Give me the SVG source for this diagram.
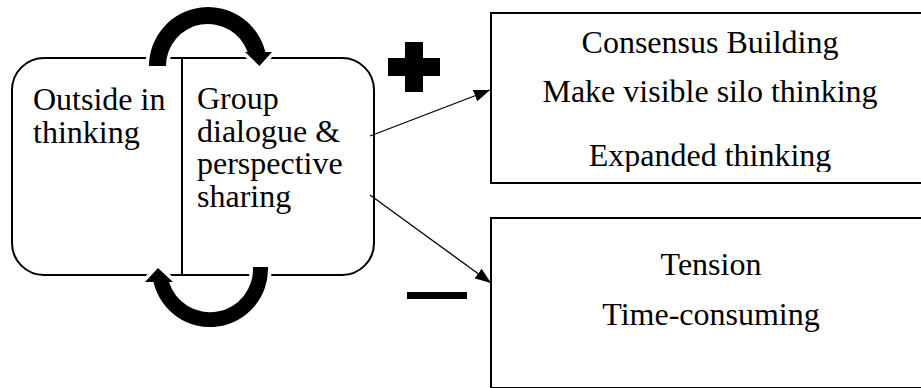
<svg xmlns="http://www.w3.org/2000/svg" width="921" height="388" viewBox="0 0 921 388">
<style>
  .t { font-family: "Times New Roman", "Liberation Serif", Tinos, "DejaVu Serif", serif; font-size: 32px; fill: #000; }
  .c { text-anchor: middle; }
  .box { fill: #fff; stroke: #000; stroke-width: 2; }
  .conn { stroke: #000; stroke-width: 1.3; fill: none; marker-end: url(#ah); }
  .cyc { fill: #000; stroke: #fff; stroke-width: 7; paint-order: stroke; stroke-linejoin: miter; }
  .sign { fill: #000; }
</style>
<defs>
  <marker id="ah" markerUnits="userSpaceOnUse" markerWidth="16" markerHeight="12" refX="16" refY="6" orient="auto">
    <path d="M0,0 L16,6 L0,12 Z" fill="#000"/>
  </marker>
  <clipPath id="clipTop">
    <rect x="491" y="13" width="430" height="159"/>
  </clipPath>
</defs>

<g id="loop-box">
  <rect class="box" x="12" y="58" width="362" height="217" rx="32" ry="32"/>
  <line x1="182" y1="58" x2="182" y2="275" stroke="#000" stroke-width="2"/>
</g>

<g id="outside-in">
  <text class="t" x="33" y="110">Outside in</text>
  <text class="t" x="33" y="142.5">thinking</text>
</g>

<g id="group-dialogue">
  <text class="t" x="197" y="109">Group</text>
  <text class="t" x="197" y="141.5">dialogue &amp;</text>
  <text class="t" x="197" y="174">perspective</text>
  <text class="t" x="197" y="206.5">sharing</text>
</g>

<g id="cycle-arrows">
  <path class="cyc" d="M149,66 A59,59 0 0 1 265.3,52 L272,52 L259.5,66 L245,52 L247.6,52 A42,42 0 0 0 166,66 Z"/>
  <path class="cyc" d="M268,267 A58,58 0 0 1 153.5,282 L145,282 L158,268 L173,282 L169,282 A43,43 0 0 0 253,267 Z"/>
</g>

<g id="plus">
  <rect class="sign" x="405" y="42" width="18" height="50"/>
  <rect class="sign" x="388" y="58" width="52" height="18"/>
</g>

<g id="minus">
  <rect class="sign" x="407" y="292" width="60" height="7"/>
</g>

<g id="positives">
  <rect class="box" x="491" y="13" width="440" height="170"/>
  <text class="t c" x="710" y="53">Consensus Building</text>
  <text class="t c" x="710" y="102">Make visible silo thinking</text>
  <text class="t c" x="710" y="166" clip-path="url(#clipTop)">Expanded thinking</text>
</g>

<g id="negatives">
  <rect class="box" x="491" y="218" width="440" height="170"/>
  <text class="t c" x="711" y="275">Tension</text>
  <text class="t c" x="711" y="325">Time-consuming</text>
</g>

<g id="connectors">
  <line class="conn" x1="370" y1="136" x2="490" y2="90"/>
  <line class="conn" x1="370" y1="195" x2="491" y2="283"/>
</g>
</svg>
